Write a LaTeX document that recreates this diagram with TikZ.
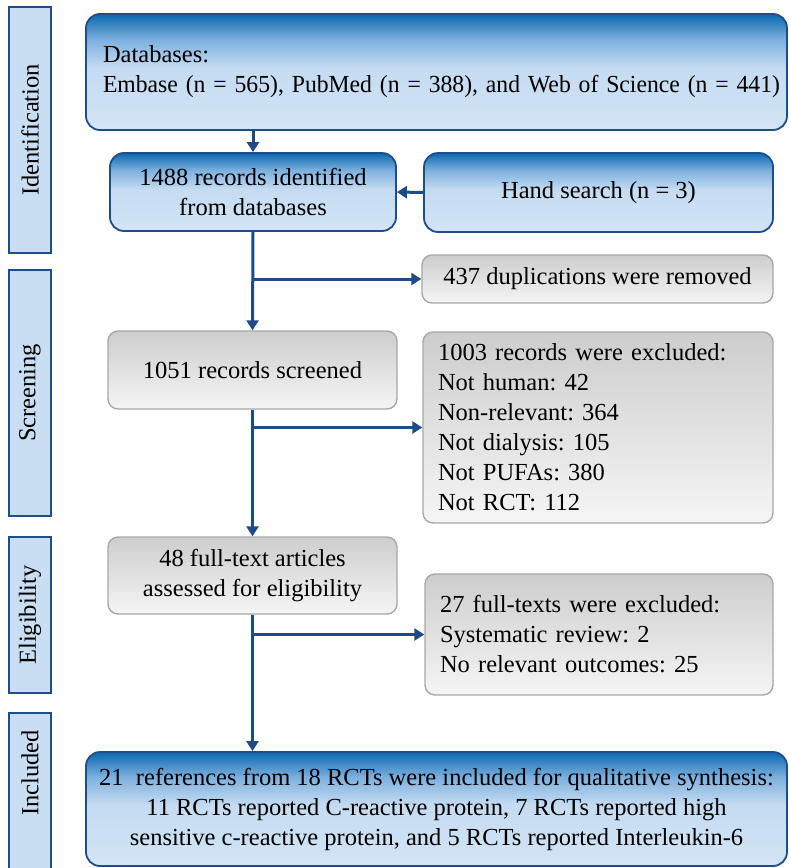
\documentclass[tikz,border=0pt]{standalone}
\usepackage{fontspec}
\usepackage{graphicx}
\setmainfont{Liberation Serif}
\usetikzlibrary{arrows.meta}
\frenchspacing

\definecolor{navy}{HTML}{1E4D8C}
\definecolor{bluetop}{HTML}{0A68B0}
\definecolor{bluemid}{HTML}{7DB0DE}
\definecolor{bluelight}{HTML}{C4DBF1}
\definecolor{bluepale}{HTML}{D3E5F6}
\definecolor{barfill}{HTML}{C9DDF3}
\definecolor{greyedge}{HTML}{A8A8A8}
\definecolor{greytop}{HTML}{CDCDCD}
\definecolor{greybot}{HTML}{F5F5F5}
\definecolor{arrowblue}{HTML}{1F4A88}

% dark band on top, fading into light blue
\pgfdeclareverticalshading{bluefade}{100bp}{color(0bp)=(bluepale); color(25bp)=(bluepale);
  color(52bp)=(bluelight); color(64bp)=(bluemid); color(75bp)=(bluetop); color(100bp)=(bluetop)}

\tikzset{
  phase/.style={draw=navy, line width=1.5pt, fill=barfill},
  bluebox/.style={draw=navy, line width=1.8pt, rounded corners=14pt, shading=bluefade, shade},
  greybox/.style={draw=greyedge, line width=1.4pt, rounded corners=10pt,
                  top color=greytop, bottom color=greybot},
  link/.style={draw=arrowblue, line width=3pt, -{Triangle[length=10pt,width=12pt]}},
}

\begin{document}
\begin{tikzpicture}[x=1pt, y=-1pt, font=\fontsize{24.5}{30}\selectfont]
  \useasboundingbox (0,0) rectangle (788,868);
  % Phase bars on the left
  \node[phase, rotate=90, minimum width=246pt, minimum height=42pt] (idlab) at (30,130) {Identification};
  \node[phase, rotate=90, minimum width=246pt, minimum height=42pt] (scrlab) at (30,393) {Screening};
  \node[phase, rotate=90, minimum width=156pt, minimum height=42pt] (elilab) at (30,615) {Eligibility};
  \draw[phase] (9,713) rectangle (51,880);
  \node[rotate=90] (inclab) at (30,773) {Included};
  % Identification
  \node[bluebox, minimum width=701pt, minimum height=116pt, text width=667pt, inner xsep=17pt, align=left]
        (db) at (436.5,72)
        {Databases:\\\resizebox{677pt}{\height}{Embase (n = 565), PubMed (n = 388), and Web of Science (n = 441)}};
  \node[bluebox, minimum width=286pt, minimum height=78pt, align=center]
        (rec) at (253,192) {1488 records identified\\from databases};
  \node[bluebox, minimum width=349pt, minimum height=79pt]
        (hand) at (598.5,192.5) {Hand search (n = 3)};
  % Screening
  \node[greybox, minimum width=351pt, minimum height=48pt]
        (dup) at (597.5,279) {437 duplications were removed};
  \node[greybox, minimum width=289pt, minimum height=78pt]
        (scr) at (252.5,370) {1051 records screened};
  \node[greybox, minimum width=350pt, minimum height=191pt, text width=320pt, inner xsep=15pt, align=left]
        (exc1) at (598,427.5)
        {1003 records were excluded:\\Not human: 42\\Non-relevant: 364\\Not dialysis: 105\\Not PUFAs: 380\\Not RCT: 112};
  % Eligibility
  \node[greybox, minimum width=289pt, minimum height=77pt, align=center]
        (full) at (252.5,575.5) {48 full-text articles\\assessed for eligibility};
  \node[greybox, minimum width=348pt, minimum height=121pt, text width=318pt, inner xsep=15pt, align=left]
        (exc2) at (599,634.5)
        {27 full-texts were excluded:\\Systematic review: 2\\No relevant outcomes: 25};
  % Included
  \node[bluebox, minimum width=701pt, minimum height=114pt, align=center]
        (incl) at (436.5,809)
        {21\ \ references from 18 RCTs were included for qualitative synthesis:\\
         11 RCTs reported C-reactive protein, 7 RCTs reported high\\
         sensitive c-reactive protein, and 5 RCTs reported Interleukin-6};
  % Connectors
  \coordinate (j1) at (rec.south |- dup.west);
  \coordinate (j2) at (scr.south |- exc1.west);
  \coordinate (j3) at (full.south |- exc2.west);
  \draw[link] (rec.north |- db.south) -- (rec.north);
  \draw[link] (hand.west) -- (rec.east);
  \draw[link] (rec.south) -- (scr.north);
  \draw[link] (j1) -- (dup.west);
  \draw[link] (scr.south) -- (full.north);
  \draw[link] (j2) -- (exc1.west);
  \draw[link] (full.south) -- (full.south |- incl.north);
  \draw[link] (j3) -- (exc2.west);
\end{tikzpicture}
\end{document}
